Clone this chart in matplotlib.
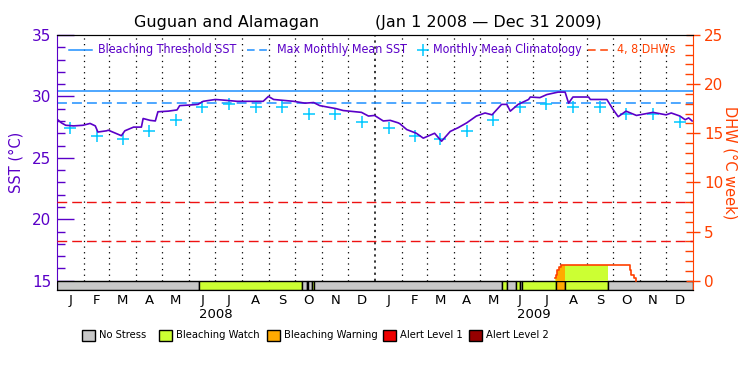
# Coral Reef Watch style SST / DHW chart

from matplotlib import pyplot as plt
from matplotlib.patches import Rectangle
from matplotlib.lines import Line2D
import matplotlib.dates as mdates
import pandas as pd
import numpy as np

# ---- data ----
sst_dates = ['2008-01-01', '2008-01-06', '2008-01-11', '2008-01-20', '2008-01-31',
             '2008-02-08', '2008-02-14', '2008-02-17', '2008-02-27', '2008-02-29',
             '2008-03-15', '2008-03-19', '2008-03-29', '2008-04-07', '2008-04-09',
             '2008-04-17', '2008-04-23', '2008-04-26', '2008-05-08', '2008-05-18',
             '2008-05-21', '2008-06-02', '2008-06-11', '2008-06-17', '2008-07-01',
             '2008-07-10', '2008-07-26', '2008-08-25', '2008-08-31', '2008-09-06',
             '2008-09-29', '2008-10-12', '2008-10-22', '2008-10-29', '2008-11-17',
             '2008-11-25', '2008-12-16', '2008-12-24', '2008-12-31', '2009-01-10',
             '2009-01-18', '2009-01-27', '2009-01-29', '2009-02-06', '2009-02-17',
             '2009-02-25', '2009-03-10', '2009-03-18', '2009-03-28', '2009-04-06',
             '2009-04-16', '2009-04-27', '2009-05-07', '2009-05-15', '2009-05-26',
             '2009-06-01', '2009-06-05', '2009-06-14', '2009-06-26', '2009-06-28',
             '2009-07-09', '2009-07-17', '2009-07-30', '2009-08-07', '2009-08-11',
             '2009-08-16', '2009-09-03', '2009-09-05', '2009-09-24', '2009-10-01',
             '2009-10-07', '2009-10-16', '2009-10-28', '2009-11-16', '2009-12-01',
             '2009-12-07', '2009-12-17', '2009-12-23', '2009-12-27', '2009-12-31']
sst_values = [28.15, 27.85, 27.65, 27.6, 27.65,
              27.8, 27.6, 27.1, 27.2, 27.25,
              26.8, 27.2, 27.5, 27.5, 28.2,
              28.05, 28.0, 28.75, 28.8, 28.9,
              29.25, 29.3, 29.35, 29.6, 29.75,
              29.7, 29.6, 29.6, 30.0, 29.75,
              29.6, 29.45, 29.5, 29.25, 29.0,
              28.85, 28.7, 28.4, 28.45, 28.0,
              28.05, 27.85, 27.78, 27.3, 27.0,
              26.6, 27.0, 26.35, 27.15, 27.45,
              27.85, 28.4, 28.65, 28.5, 29.35,
              29.35, 28.8, 29.35, 29.75, 29.95,
              29.9, 30.15, 30.35, 30.35, 29.45,
              29.95, 29.95, 29.75, 29.75, 28.95,
              28.35, 28.8, 28.45, 28.7, 28.5,
              28.65, 28.4, 28.1, 28.25, 28.0]

# monthly mean climatology (Jan..Dec)
clim_values = [27.45, 26.75, 26.55, 27.15, 28.05, 29.15,
               29.4, 29.1, 29.15, 28.6, 28.6, 27.95]

mmm = 29.45
threshold = 30.45
dhw_levels = [4, 8]

dhw_dates = ['2009-07-26', '2009-07-27', '2009-07-29', '2009-07-31', '2009-08-02',
             '2009-08-07', '2009-09-25', '2009-10-21', '2009-10-22', '2009-10-25',
             '2009-10-28']
dhw_values = [0.3, 0.6, 1.1, 1.35, 1.63, 1.63, 1.63, 1.1, 0.6, 0.3, 0.0]

# stress level segments (0 none, 1 watch, 2 warning)
stress_start = ['2008-01-01', '2008-06-12', '2008-10-09', '2008-10-14', '2008-10-16',
                '2008-10-20', '2008-10-22', '2009-05-26', '2009-06-01', '2009-06-12',
                '2009-06-16', '2009-06-18', '2009-07-27', '2009-08-07', '2009-09-25']
stress_end = ['2008-06-12', '2008-10-09', '2008-10-14', '2008-10-16', '2008-10-20',
              '2008-10-22', '2009-05-26', '2009-06-01', '2009-06-12', '2009-06-16',
              '2009-06-18', '2009-07-27', '2009-08-07', '2009-09-25', '2010-01-01']
stress_level = [0, 1, 0, 1, 0, 1, 0, 1, 0, 1, 0, 1, 2, 1, 0]

stress_names = ['No Stress', 'Bleaching Watch', 'Bleaching Warning', 'Alert Level 1', 'Alert Level 2']
stress_colors = ['#c8c8c8', '#ccff33', '#ffaa00', '#ee0000', '#960000']
month_letters = list('JFMAMJJASOND')
years = ['2008', '2009']

# ---- colors ----
purple = '#5a00c8'
blue = '#1e90ff'
cyan = '#00c8ff'
orange = '#ff4000'
red = '#ee1111'

plt.rcParams['font.family'] = ['DejaVu Sans']

fig = plt.figure(figsize=(7.5, 3.75), dpi=100)
ax = fig.add_axes([0.076, 0.2267, 0.848, 0.68])
ax2 = ax.twinx()

x0 = pd.Timestamp('2008-01-01')
x1 = pd.Timestamp('2010-01-01')
sst_lo, sst_hi = 14.24, 35
ax.set_xlim(x0, x1)
ax.set_ylim(sst_lo, sst_hi)
ax2.set_ylim((sst_lo - 15) * 1.25, 25)

# month grid (dotted)
month_starts = pd.date_range(x0, x1, freq='MS')
for d in month_starts[1:-1]:
    if d.month == 1:
        ax.plot([d, d], [15, 35], color='black', lw=1.1, ls=(0, (1.5, 2.5)), zorder=1)
    else:
        ax.plot([d, d], [15, 35], color='black', lw=0.9, ls=(0, (1, 3.5)), zorder=1)

# thresholds
ax.axhline(threshold, color=blue, lw=1.1, zorder=2)
ax.axhline(mmm, color=blue, lw=1.1, ls=(0, (6.5, 3.3)), zorder=2)
for lv in dhw_levels:
    ax2.axhline(lv, color=red, lw=1.0, ls=(0, (7, 3.6)), zorder=2)

# climatology crosses at mid month
mids = month_starts[:-1] + (month_starts[1:] - month_starts[:-1]) / 2
ax.plot(mids, clim_values * 2, ls='none', marker='+', ms=8, mew=1.1, color=cyan, zorder=3)

# SST line
ax.plot(pd.to_datetime(sst_dates), sst_values, color=purple, lw=1.2, zorder=4)

# stress bar
for s, e, lv in zip(stress_start, stress_end, stress_level):
    xs = mdates.date2num(pd.Timestamp(s))
    xe = mdates.date2num(pd.Timestamp(e))
    ax.add_patch(Rectangle((xs, sst_lo), xe - xs, 15 - sst_lo,
                           facecolor=stress_colors[lv], edgecolor='black', lw=1, zorder=5))

# DHW fill coloured by stress level, then DHW line
dd = pd.to_datetime(dhw_dates)
dv = np.array(dhw_values)
for s, e, lv in zip(stress_start, stress_end, stress_level):
    if lv == 0:
        continue
    m = (dd >= pd.Timestamp(s)) & (dd <= pd.Timestamp(e))
    if m.sum() > 1:
        ax2.fill_between(dd[m], 0, dv[m], step='post', color=stress_colors[lv], lw=0, zorder=1)
ax2.step(dd, dv, where='post', color=orange, lw=1.2, zorder=3)

# axes styling
ax.set_xticks([])
ax.yaxis.set_ticks_position('left')
ax.set_yticks(np.arange(15, 36, 5))
ax.set_yticks(np.arange(15, 36, 1), minor=True)
ax.tick_params(axis='y', which='major', direction='in', length=12, width=1, colors=purple, labelsize=11, pad=4)
ax.tick_params(axis='y', which='minor', direction='in', length=6, width=1, colors=purple)
ax.spines['left'].set_color(purple)
ax.spines['right'].set_visible(False)
ax.set_ylabel('SST (°C)', color=purple, fontsize=10.5, labelpad=6)

ax2.set_xticks([])
ax2.yaxis.set_ticks_position('right')
ax2.set_yticks(np.arange(0, 26, 5))
ax2.set_yticks(np.arange(0, 26, 1), minor=True)
ax2.tick_params(axis='y', which='major', direction='inout', length=10, width=1, colors=orange, labelsize=11, pad=3)
ax2.tick_params(axis='y', which='minor', direction='in', length=6, width=1, colors=orange)
ax2.spines['right'].set_color(orange)
ax2.spines['left'].set_visible(False)
ax2.set_ylabel('DHW (°C week)', color=orange, fontsize=10.5, rotation=-90, labelpad=10)

# month / year labels
for d, lab in zip(mids, month_letters * 2):
    ax.text(d, -0.015, lab, transform=ax.get_xaxis_transform(), ha='center', va='top', fontsize=9.5)
for i, y in enumerate(years):
    mid = pd.Timestamp(y + '-07-02')
    ax.text(mid, -0.072, y, transform=ax.get_xaxis_transform(), ha='center', va='top', fontsize=9.5)

# title
fig.text(227 / 750, 1 - 22 / 375, 'Guguan and Alamagan', ha='center', va='center', fontsize=11.5)
fig.text(488 / 750, 1 - 22 / 375, '(Jan 1 2008 \u2014 Dec 31 2009)', ha='center', va='center', fontsize=11.5)

# top legend
ly = 1 - 50 / 375
fs = 8.9
cond = dict(fontsize=fs, fontstretch='condensed', va='center')
fig.add_artist(Line2D([69 / 750, 92 / 750], [ly, ly], color=blue, lw=1.1))
fig.text(98 / 750, ly, 'Bleaching Threshold SST', color=purple, **cond)
fig.add_artist(Line2D([247 / 750, 268 / 750], [ly, ly], color=blue, lw=1.1, ls=(0, (5, 3))))
fig.text(277 / 750, ly, 'Max Monthly Mean SST', color=purple, **cond)
fig.add_artist(Line2D([422.7 / 750], [ly], color=cyan, marker='+', ms=8, mew=1.1, ls='none'))
fig.text(433 / 750, ly, 'Monthly Mean Climatology', color=purple, **cond)
fig.add_artist(Line2D([588 / 750, 612 / 750], [ly, ly], color=orange, lw=1.1, ls=(0, (5, 3))))
fig.text(617 / 750, ly, '4, 8 DHWs', color=orange, **cond)

# bottom stress legend
box_x = [82, 159, 267, 383, 469]
by = 1 - 341 / 375
for bx, name, col in zip(box_x, stress_names, stress_colors):
    fig.add_artist(Rectangle((bx / 750, by), 13 / 750, 11.5 / 375, facecolor=col,
                             edgecolor='black', lw=1, transform=fig.transFigure))
    fig.text((bx + 17) / 750, by + 5.5 / 375, name, fontsize=8, fontstretch='condensed', va='center')

plt.savefig('out.png', dpi=100)
